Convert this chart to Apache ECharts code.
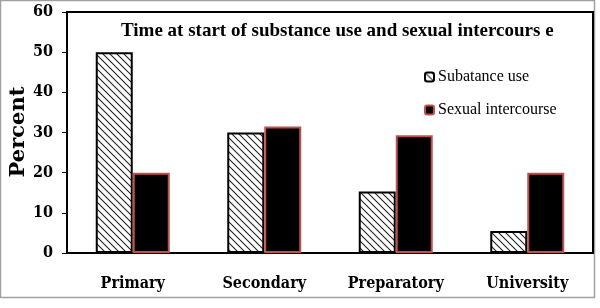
<!DOCTYPE html>
<html>
<head>
<meta charset="utf-8">
<script src="https://cdn.jsdelivr.net/npm/echarts@6/dist/echarts.min.js"></script>
<style>html,body{margin:0;padding:0;background:#fff;}#c{width:600px;height:308px;}</style>
</head>
<body>
<div id="c"></div>
<script>
const categories = ['Primary', 'Secondary', 'Preparatory', 'University'];
const substanceUse = [50, 30, 15.3, 5.5];
const sexualIntercourse = [20, 31.5, 29.3, 20];
const yTicks = [0, 10, 20, 30, 40, 50, 60];
const seriesNames = ['Subatance use', 'Sexual intercourse'];
const titleText = 'Time at start of substance use and sexual intercours e';
const yAxisTitle = 'Percent';

function hatch() {
  const s = 7;
  const cv = document.createElement('canvas');
  cv.width = s; cv.height = s;
  const ctx = cv.getContext('2d');
  ctx.fillStyle = '#fff';
  ctx.fillRect(0, 0, s, s);
  ctx.strokeStyle = '#222';
  ctx.lineWidth = 1.1;
  ctx.beginPath();
  ctx.moveTo(-1, -1); ctx.lineTo(s + 1, s + 1);
  ctx.moveTo(-1, s - 1); ctx.lineTo(1, s + 1);
  ctx.moveTo(s - 1, -1); ctx.lineTo(s + 1, 1);
  ctx.stroke();
  return cv;
}

const chart = echarts.init(document.getElementById('c'), null, {renderer: 'canvas'});
const serif = '"Liberation Serif", serif';
const cond = '"DejaVu Serif Condensed", "Liberation Serif", serif';
chart.setOption({
  animation: false,
  backgroundColor: '#fff',
  title: {
    text: titleText,
    left: 121, top: 22, padding: 0,
    textStyle: {fontFamily: serif, fontWeight: 'bold', fontSize: 19, color: '#000'}
  },
  legend: {
    orient: 'vertical',
    left: 424, top: 69,
    itemWidth: 9, itemHeight: 9, itemGap: 17,
    padding: 0,
    textStyle: {fontFamily: serif, fontSize: 16, color: '#000', padding: [0, 0, 0, -1]},
    data: seriesNames
  },
  grid: {
    left: 67, right: 7, top: 12, bottom: 55,
    show: true, borderColor: '#000', borderWidth: 2,
    containLabel: false,
    outerBoundsMode: 'none'
  },
  xAxis: {
    type: 'category',
    data: categories,
    axisLine: {lineStyle: {color: '#000', width: 2}},
    axisTick: {show: false},
    axisLabel: {margin: 23, fontFamily: cond, fontWeight: 'bold', fontSize: 16, color: '#000'}
  },
  yAxis: {
    type: 'value',
    min: yTicks[0], max: yTicks[yTicks.length - 1], interval: 10,
    splitLine: {show: false},
    axisLine: {show: true, lineStyle: {color: '#000', width: 2}},
    axisTick: {show: true, length: 5, lineStyle: {color: '#000', width: 1}},
    axisLabel: {margin: 14, fontFamily: cond, fontWeight: 'bold', fontSize: 16, color: '#000'}
  },
  graphic: [{
    type: 'rect',
    shape: {x: 0.5, y: 0.5, width: 594, height: 297},
    style: {fill: 'none', stroke: '#a0a0a0', lineWidth: 1.5},
    silent: true, z: -1
  }, {
    type: 'text',
    x: 19, y: 132,
    rotation: Math.PI / 2,
    silent: true,
    style: {
      text: yAxisTitle,
      fontFamily: '"DejaVu Serif", serif', fontWeight: 'bold', fontSize: 21, fill: '#000',
      align: 'center', verticalAlign: 'middle'
    }
  }],
  series: [{
    name: seriesNames[0],
    type: 'bar',
    data: substanceUse,
    barWidth: 37,
    barGap: '0%',
    itemStyle: {color: {image: hatch(), repeat: 'repeat'}, borderColor: '#000', borderWidth: 2}
  }, {
    name: seriesNames[1],
    type: 'bar',
    data: sexualIntercourse,
    barWidth: 37,
    barGap: '0%',
    itemStyle: {color: '#000', borderColor: '#c0504d', borderWidth: 2}
  }]
});
</script>
</body>
</html>
